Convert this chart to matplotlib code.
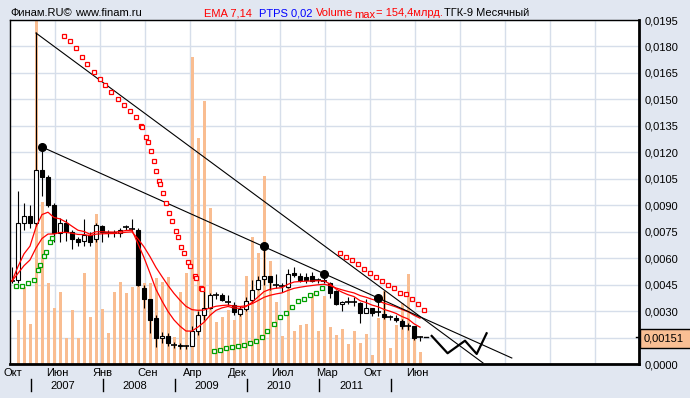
import numpy as np
import pandas as pd
import matplotlib
matplotlib.use("Agg")
import matplotlib.pyplot as plt
import matplotlib.transforms as mtransforms
from matplotlib.patches import Rectangle
from matplotlib.ticker import FuncFormatter

plt.rcParams['font.family'] = ['Liberation Sans', 'DejaVu Sans']

# месячные свечи ТГК-9, окт 2006 - июн 2012
opens = [0.0047, 0.00475, 0.0080, 0.0084, 0.0080, 0.0110, 0.0106, 0.0090, 0.0074, 0.0080,
         0.0075, 0.0071, 0.0070, 0.0073, 0.0071, 0.0078, 0.00745, 0.00745, 0.0074, 0.00775,
         0.00763, 0.0076, 0.0043, 0.0037, 0.0026, 0.00146, 0.0016, 0.00106, 0.0010, 0.00104,
         0.00104, 0.00186, 0.00279, 0.0032, 0.0039, 0.0039, 0.0035, 0.00336, 0.00285, 0.0031,
         0.0036, 0.00425, 0.0048, 0.0050, 0.00448, 0.00442, 0.00435, 0.00518, 0.0050, 0.00495,
         0.0050, 0.00476, 0.0047, 0.0046, 0.00416, 0.0034, 0.0035, 0.0035, 0.00344, 0.00291,
         0.00316, 0.00295, 0.00283, 0.00268, 0.00259, 0.00244, 0.00215, 0.00215, 0.00151]
highs = [0.0055, 0.0098, 0.0091, 0.0090, 0.0188, 0.0123, 0.0107, 0.0091, 0.0083, 0.0082,
         0.0076, 0.0072, 0.0082, 0.0075, 0.0080, 0.0079, 0.0076, 0.0076, 0.0077, 0.0079,
         0.0082, 0.0077, 0.0045, 0.0037, 0.0028, 0.00184, 0.00175, 0.00125, 0.0012, 0.00106,
         0.00213, 0.00298, 0.00412, 0.0040, 0.0041, 0.0040, 0.0039, 0.0035, 0.0033, 0.0038,
         0.00478, 0.0050, 0.0067, 0.0050, 0.0051, 0.0046, 0.00537, 0.00548, 0.00514, 0.00514,
         0.0052, 0.0049, 0.0051, 0.00467, 0.0042, 0.00357, 0.0038, 0.0038, 0.0035, 0.0037,
         0.0032, 0.00374, 0.00416, 0.0028, 0.0028, 0.00253, 0.0023, 0.00215, 0.0016]
lows = [0.0046, 0.0046, 0.0076, 0.0077, 0.0078, 0.0095, 0.0089, 0.0069, 0.0069, 0.0070,
        0.0065, 0.0067, 0.0067, 0.0067, 0.0069, 0.0069, 0.0072, 0.0072, 0.0072, 0.0076,
        0.0075, 0.0044, 0.0032, 0.00175, 0.00095, 0.0012, 0.0010, 0.0009, 0.00087, 0.00084,
        0.00102, 0.00165, 0.0025, 0.0031, 0.0037, 0.00355, 0.00336, 0.0028, 0.0027, 0.0030,
        0.0035, 0.0042, 0.0045, 0.0042, 0.0043, 0.0041, 0.0043, 0.00495, 0.00467, 0.0046,
        0.00467, 0.0046, 0.0046, 0.00372, 0.00335, 0.0030, 0.0034, 0.0033, 0.0023, 0.0029,
        0.0027, 0.0027, 0.00253, 0.0025, 0.0024, 0.0020, 0.0019, 0.00136, 0.0013]
closes = [0.0047, 0.0080, 0.0084, 0.0080, 0.0110, 0.0106, 0.0090, 0.0074, 0.0080, 0.0075,
          0.0071, 0.0069, 0.0073, 0.0069, 0.0079, 0.0075, 0.00745, 0.00745, 0.0076, 0.00775,
          0.00763, 0.0045, 0.0037, 0.0025, 0.00146, 0.0016, 0.0012, 0.00106, 0.00108, 0.00104,
          0.00186, 0.00279, 0.00317, 0.00393, 0.0039, 0.0036, 0.0035, 0.00292, 0.0031, 0.00355,
          0.00418, 0.00475, 0.0050, 0.00463, 0.00448, 0.00442, 0.0051, 0.00503, 0.00476, 0.00476,
          0.00473, 0.00476, 0.0047, 0.0040, 0.0034, 0.00353, 0.0035, 0.0035, 0.00291, 0.00316,
          0.00291, 0.00295, 0.00265, 0.00268, 0.0025, 0.00215, 0.00215, 0.00146, 0.00151]
# объём, млрд
volumes = [0.6, 19.8, 34.8, 18, 154.4, 73, 36.3, 25, 32.5, 11.6,
           24.3, 11.6, 40.8, 21.3, 67.5, 24.6, 13.8, 32.5, 37, 32,
           34.8, 45, 36.3, 36.3, 38.6, 37, 39, 12.3, 32.5, 40.8,
           138, 101.6, 118.4, 70, 19, 21.3, 24.3, 19.8, 23.5, 39.6,
           57.3, 50, 84.8, 46.5, 28, 12.7, 37.8, 14.9, 17.6, 18,
           31.8, 14.9, 30.6, 16.8, 13, 15.9, 9, 14.9, 9.6, 13.4,
           4, 20.8, 33, 7, 17.6, 27.3, 40.5, 16.8, 5.5]
vol_max = 154.4
last_price = 0.00151

# parabolic SAR (PTPS 0,02), точки
sar_red1_x = [8.67, 9.67, 10.67, 11.67, 12.5, 13.67, 14.67, 15.5, 16.5, 17.67, 18.67, 19.67,
              20.67, 21.5, 21.67, 22.33, 22.72, 23.22, 23.72, 24.05, 24.55, 24.72, 25.22, 25.72,
              26.22, 26.72, 27.38, 27.72, 28.22, 28.72, 29.38, 29.72, 30.55, 30.72, 31.55, 31.72]
sar_red1_y = [0.01859, 0.01833, 0.0179, 0.01739, 0.01701, 0.01655, 0.01616, 0.01582, 0.0154,
              0.01502, 0.01468, 0.01434, 0.01399, 0.01349, 0.01344, 0.01287, 0.01257, 0.01206,
              0.01149, 0.01092, 0.01036, 0.01019, 0.00968, 0.00911, 0.00854, 0.00809, 0.00752,
              0.00718, 0.00665, 0.00628, 0.00577, 0.00554, 0.00497, 0.00488, 0.00429, 0.00423]
sar_red2_x = [54.72, 55.72, 56.72, 57.72, 58.72, 59.72, 60.72, 61.72, 62.72, 63.72, 64.72,
              65.72, 66.72, 67.72, 68.72]
sar_red2_y = [0.00629, 0.00608, 0.0059, 0.00569, 0.00539, 0.00518, 0.00492, 0.0047, 0.0045,
              0.00429, 0.00401, 0.00395, 0.00367, 0.0034, 0.00306]
sar_green1_x = [0.72, 1.72, 2.72, 3.72, 4.38, 4.72, 5.38, 5.72, 6.38, 6.72]
sar_green1_y = [0.0044, 0.0044, 0.00457, 0.00475, 0.00531, 0.0056, 0.0061, 0.00633, 0.0069, 0.00713]
sar_green2_x = [33.72, 34.72, 35.72, 36.72, 37.72, 38.72, 39.72, 40.72, 41.72, 42.55, 43.72,
                44.72, 45.72, 46.72, 47.72, 48.72, 49.72, 50.72, 51.72]
sar_green2_y = [0.00072, 0.00078, 0.00089, 0.00095, 0.0010, 0.00106, 0.00117, 0.00129, 0.00151,
                0.00185, 0.00225, 0.00265, 0.00287, 0.00321, 0.00355, 0.00367, 0.00389, 0.00401,
                0.00429]

# фракталы и линии тренда
fractal_x = [5, 42, 52, 61]
fractal_y = [0.0123, 0.00669, 0.0051, 0.00374]
trend1_x = [4, 78.5]
trend1_y = [0.01876, 0.00006]
trend2_x = [5, 83.3]
trend2_y = [0.0123, 0.00034]
# прогноз (зигзаг)
zigzag_x = [69.95, 72.6, 75.5, 77.45, 79.1]
zigzag_y = [0.00159, 0.00061, 0.00132, 0.00057, 0.00174]

month_labels = ['Окт', 'Июн', 'Янв', 'Сен', 'Апр', 'Дек', 'Июл', 'Мар', 'Окт', 'Июн']
year_labels = ['2007', '2008', '2009', '2010', '2011']
jan_index = [3, 15, 27, 39, 51, 63]

BG = '#e1e7f1'
GRID = '#d6deea'
VOLC = '#f9bd91'

W, H = 690, 398
fig = plt.figure(figsize=(W / 100, H / 100), dpi=100, facecolor=BG)
ax = fig.add_axes([10 / W, (H - 364) / H, 629 / W, 344 / H])
ax.set_facecolor('white')
ax_p = ax.twinx()

x = np.arange(len(closes))
O, Hh, L, C = map(np.array, (opens, highs, lows, closes))

# объём
ax.bar(x + 0.15, volumes, width=0.5, color=VOLC, zorder=2)
vtop = vol_max * 344 / 343
ax.set_ylim(0, vtop)
ax.set_xlim(-1 / 3, 104.5)
ax.set_yticks(np.linspace(0, vtop, 14))
ax.set_xticks(-1 / 3 + 7.5 * np.arange(1, 14))
ax.tick_params(length=0, labelleft=False, labelbottom=False, labelright=False)
ax.grid(True, color=GRID, lw=1)
ax.set_axisbelow(True)
for s in ax.spines.values():
    s.set_visible(False)

# свечи
ax_p.vlines(x, L, Hh, color='black', lw=0.8, zorder=3)
body = np.abs(C - O)
m = body > 1e-7
ax_p.bar(x[m], body[m], bottom=np.minimum(O, C)[m], width=0.66,
         color=np.where(C[m] >= O[m], 'white', 'black'), edgecolor='black', lw=0.8, zorder=4)
d = ~m
ax_p.hlines(C[d], x[d] - 0.42, x[d] + 0.42, color='black', lw=1.2, zorder=4)

# EMA 7, 14
ema7 = pd.Series(closes).ewm(span=7, adjust=False).mean()
ema14 = pd.Series(closes).ewm(span=14, adjust=False).mean()
ax_p.plot(x, ema7, color='red', lw=0.9, zorder=5)
ax_p.plot(x, ema14, color='red', lw=0.9, zorder=5)

# SAR
sar_style = dict(ls='none', marker='s', ms=3.0, mfc='white', mew=0.9, zorder=6)
ax_p.plot(sar_red1_x, sar_red1_y, mec='#ff0000', **sar_style)
ax_p.plot(sar_red2_x, sar_red2_y, mec='#ff0000', **sar_style)
ax_p.plot(sar_green1_x, sar_green1_y, mec='#00a000', **sar_style)
ax_p.plot(sar_green2_x, sar_green2_y, mec='#00a000', **sar_style)

# линии
ax_p.plot(trend1_x, trend1_y, color='black', lw=0.8, zorder=5)
ax_p.plot(trend2_x, trend2_y, color='black', lw=0.8, zorder=5)
ax_p.plot(fractal_x, fractal_y, 'o', color='black', ms=5.5, zorder=7)
ax_p.plot([68.7, 69.4], [last_price, last_price], color='black', lw=1, zorder=6)
ax_p.plot(zigzag_x, zigzag_y, color='black', lw=1.6, zorder=6)

ax_p.set_ylim(0, 0.0195)
ax_p.set_yticks(np.round(np.arange(14) * 0.0015, 4))
ax_p.yaxis.set_major_formatter(FuncFormatter(
    lambda v, _: '' if abs(v - 0.0015) < 1e-7 else f'{v:.4f}'.replace('.', ',')))
ax_p.tick_params(axis='y', length=0, pad=4, labelsize=8)
ax_p.spines['left'].set_linewidth(1)
ax_p.spines['top'].set_linewidth(1)
ax_p.spines['right'].set_linewidth(2)
ax_p.spines['bottom'].set_linewidth(2)

# подписи оси X
trans = mtransforms.blended_transform_factory(ax.transData, ax.transAxes)
for k, lab in enumerate(month_labels):
    ax.text(-1 / 3 + 7.5 * k + 0.4, -0.026, lab, transform=trans, ha='center', va='center', fontsize=8)
for k, lab in enumerate(year_labels):
    ax.text(jan_index[k] + 5.5, -0.064, lab, transform=trans, ha='center', va='center', fontsize=8)
for j in jan_index:
    ax.plot([j + 0.1, j + 0.1], [-0.044, -0.079], transform=trans, color='black', lw=1, clip_on=False)

# текущая цена
fig.add_artist(Rectangle((640 / W, (H - 348) / H), 52 / W, 19 / H, transform=fig.transFigure,
                         facecolor='#f9bf94', edgecolor='black', lw=1, zorder=5))
fig.text(644 / W, (H - 338.5) / H, '0,00151', va='center', fontsize=8, zorder=6)
ptrans = mtransforms.blended_transform_factory(ax_p.transAxes, ax_p.transData)
ax_p.plot([1 - 3 / 629, 1], [last_price, last_price], transform=ptrans, color='black', lw=1, clip_on=False)

# заголовок: куски идут подряд, без наложений
title_parts = [
    ('Финам.RU©', 10, 0, 'black'),
    ('www.finam.ru', 75, 0, 'black'),
    ('EMA 7,14', 204, 0, '#ff0000'),
    ('PTPS 0,02', 259, 0, '#0000ff'),
    ('Volume', 316, 0, '#ff0000'),
    ('max', 0, 2, '#ff0000'),
    ('= 154,4млрд.', 0, 0, '#ff0000'),
    ('ТГК-9 Месячный', 0, 0, 'black'),
]
renderer = fig.canvas.get_renderer()
x_end = 0
for txt, px, drop, col in title_parts:
    px = max(px, x_end + 1)
    t = fig.text(px / W, (H - 16.5 - drop) / H, txt, fontsize=8, va='baseline', color=col)
    x_end = t.get_window_extent(renderer).x1

fig.savefig('out.png', dpi=100, facecolor=BG)
